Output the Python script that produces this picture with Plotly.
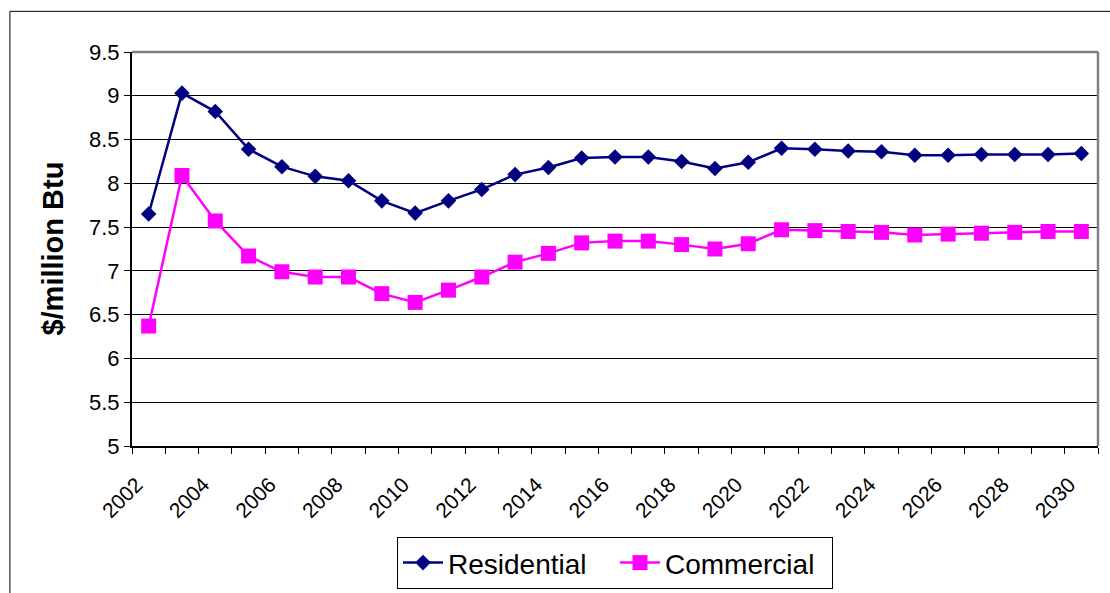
import plotly.graph_objects as go

years = list(range(2002, 2031))
residential = [7.65, 9.03, 8.82, 8.39, 8.19, 8.08, 8.03, 7.80, 7.66, 7.80,
               7.93, 8.10, 8.18, 8.29, 8.30, 8.30, 8.25, 8.17, 8.24, 8.40,
               8.39, 8.37, 8.36, 8.32, 8.32, 8.33, 8.33, 8.33, 8.34]
commercial = [6.37, 8.09, 7.57, 7.17, 6.99, 6.93, 6.93, 6.74, 6.64, 6.78,
              6.93, 7.10, 7.20, 7.32, 7.34, 7.34, 7.30, 7.25, 7.31, 7.47,
              7.46, 7.45, 7.44, 7.41, 7.42, 7.43, 7.44, 7.45, 7.45]
tick_years = list(range(2002, 2031, 2))
y_ticks = [5, 5.5, 6, 6.5, 7, 7.5, 8, 8.5, 9, 9.5]
y_labels = ["5", "5.5", "6", "6.5", "7", "7.5", "8", "8.5", "9", "9.5"]

FONT = "Liberation Sans, Arial, sans-serif"
LABEL_SHIFT = 0.36  # rotated labels sit slightly left of the category centre

fig = go.Figure()
fig.add_trace(go.Scatter(
    x=years, y=residential, name="Residential", mode="lines+markers",
    line=dict(color="#000080", width=2.5),
    marker=dict(symbol="diamond", size=12, color="#000080"),
))
fig.add_trace(go.Scatter(
    x=years, y=commercial, name="Commercial", mode="lines+markers",
    line=dict(color="#FF00FF", width=2.5),
    marker=dict(symbol="square", size=15, color="#FF00FF"),
))

fig.update_layout(
    width=1110, height=593,
    margin=dict(l=132, r=12, t=52, b=147, autoexpand=False),
    paper_bgcolor="white", plot_bgcolor="white",
    font=dict(family=FONT, color="black"),
    showlegend=True,
    legend=dict(
        orientation="h", x=0.5, xanchor="center", y=-0.3627, yanchor="bottom",
        bordercolor="black", borderwidth=1, font=dict(size=28, family=FONT),
        bgcolor="white", itemwidth=40, tracegroupgap=0,
        entrywidth=162, entrywidthmode="pixels",
    ),
    xaxis=dict(
        range=[2001.5, 2030.5], tickmode="array",
        tickvals=[y - LABEL_SHIFT for y in tick_years],
        ticktext=[str(y) for y in tick_years], tickangle=-45,
        ticks="", showgrid=False, zeroline=False, automargin=False,
        showline=True, linecolor="black", linewidth=2,
        tickfont=dict(size=21, family=FONT), ticklabelstandoff=16,
        minor=dict(ticks="outside", ticklen=6, tickcolor="black", tickwidth=1,
                   tick0=2001.5, dtick=1, showgrid=False),
    ),
    yaxis=dict(
        range=[5, 9.5], tickmode="array", tickvals=y_ticks, ticktext=y_labels,
        ticks="outside", ticklen=6, tickcolor="black", automargin=False,
        showgrid=True, gridcolor="black", gridwidth=1, zeroline=False,
        showline=True, linecolor="black", linewidth=2,
        tickfont=dict(size=22, family=FONT),
    ),
    annotations=[dict(
        text="<b>$/million Btu</b>", textangle=-90, x=-0.0814, y=0.502,
        xref="paper", yref="paper", xanchor="center", yanchor="middle",
        showarrow=False,
        font=dict(size=29, family=FONT, color="black"),
    )],
    shapes=[
        dict(type="line", xref="paper", yref="paper", x0=0, x1=1, y0=1, y1=1,
             line=dict(color="#808080", width=2.5), layer="above"),
        dict(type="line", xref="paper", yref="paper", x0=1, x1=1, y0=0, y1=1,
             line=dict(color="#808080", width=2.5), layer="above"),
        dict(type="rect", xref="paper", yref="paper", x0=-0.1264, x1=1.2,
             y0=-0.6, y1=1.1032, line=dict(color="black", width=1),
             layer="below"),
    ],
)

fig.write_html("out.html")
